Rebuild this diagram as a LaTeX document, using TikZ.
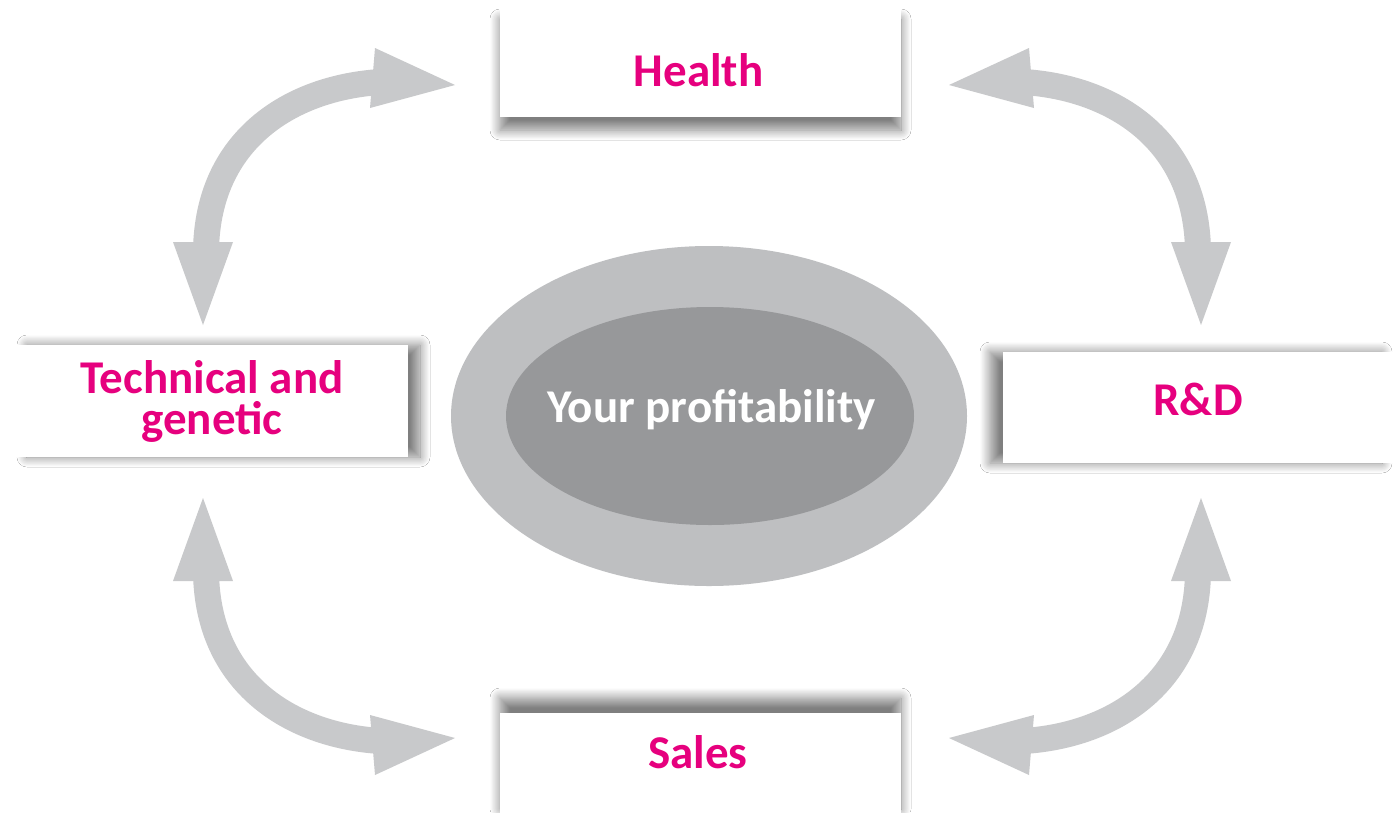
\documentclass[tikz,border=0pt]{standalone}
\usepackage{fontspec}
\setmainfont{Carlito}
\usetikzlibrary{shapes.geometric,shadows.blur}
\definecolor{pinkc}{HTML}{E6007E}
\definecolor{arrowg}{HTML}{C8C9CB}
\definecolor{outerg}{HTML}{BEBFC1}
\definecolor{innerg}{HTML}{97989A}
\tikzset{
  boxnode/.style={rectangle, fill=white, draw=none, inner sep=0pt},
  lbl/.style={text=pinkc, font=\bfseries\fontsize{47}{41}\selectfont, inner sep=0pt, anchor=base},
  ctext/.style={text=white, font=\bfseries\fontsize{47}{41}\selectfont, inner sep=0pt, anchor=base},
  shaft/.style={draw=arrowg, line width=26pt, line cap=butt},
  headfill/.style={fill=arrowg},
  softshadow/.style 2 args={blur shadow={shadow xshift=#1, shadow yshift=#2,
      shadow blur radius=10pt, shadow blur steps=16, shadow opacity=50}},
  dblarrow/.pic={
    \draw[shaft] (206,250) .. controls (208,140) and (290,88) .. (380,82);
    \fill[headfill] (375,48) -- (455,85) -- (370,108) -- cycle;
    \fill[headfill] (173,242) -- (203,325) -- (233,242) -- cycle;
  }
}
\begin{document}
\begin{tikzpicture}[x=1pt,y=-1pt]
\useasboundingbox (0,0) rectangle (1400,812);
\clip (0,0) rectangle (1400,812);
\fill[white] (0,0) rectangle (1400,812);

% boxes with shadows toward the centre
\node[boxnode, minimum width=401pt, minimum height=111pt, softshadow={0pt}{-13pt}]
  (hbox) at (700.5,61.5) {};
\node[boxnode, minimum width=401pt, minimum height=111pt, softshadow={0pt}{15pt}]
  (sbox) at (700.5,768.5) {};
\node[boxnode, minimum width=393pt, minimum height=112pt, softshadow={12pt}{0pt}]
  (tbox) at (211.5,401) {};
\node[boxnode, minimum width=392pt, minimum height=111pt, softshadow={-13pt}{0pt}]
  (rbox) at (1199,407.5) {};

% labels
\node[lbl] (health) at (698.5,86) {Health};
\node[lbl] (sales) at (698,768) {Sales};
\node[lbl] (rd) at (1198,415) {R\&D};
\node[lbl, align=center] (tech) at (212,434) {Technical and\\genetic};

% centre ellipses
\node[ellipse, fill=outerg, draw=none, inner sep=0pt, minimum width=516pt, minimum height=340pt] (outer) at (709,416) {};
\node[ellipse, fill=innerg, draw=none, inner sep=0pt, minimum width=408pt, minimum height=218pt] (inner) at (710,416) {};
\node[ctext] (profit) at (711.5,422) {Your profitability};

% four curved double arrows
\pic (tl) at (0,0) {dblarrow};
\pic[xscale=-1] (tr) at (1404,0) {dblarrow};
\pic[yscale=-1] (bl) at (0,823) {dblarrow};
\pic[xscale=-1,yscale=-1] (br) at (1404,823) {dblarrow};
\end{tikzpicture}
\end{document}
